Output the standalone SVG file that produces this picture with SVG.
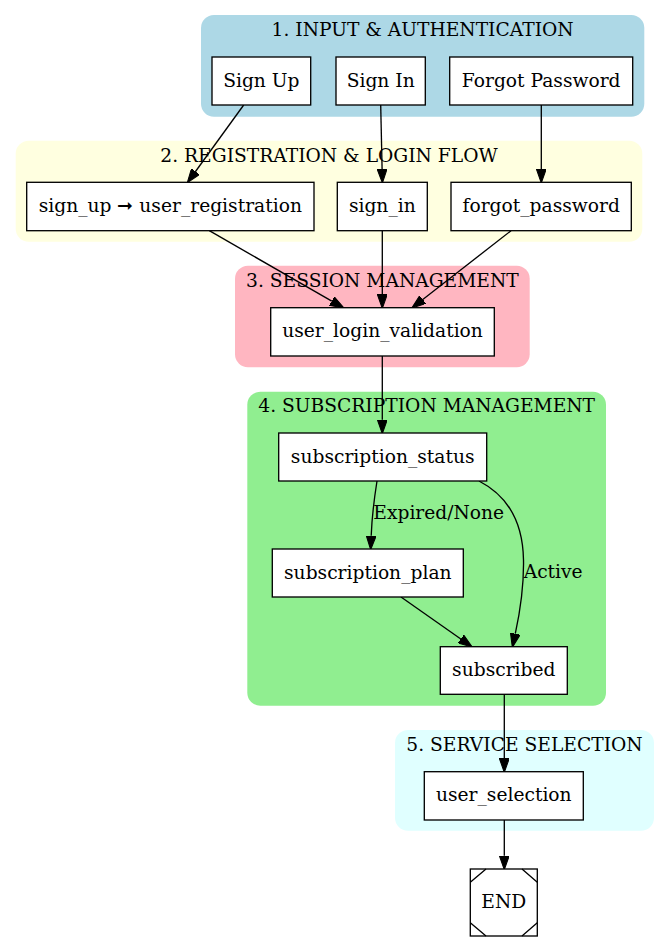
<svg xmlns="http://www.w3.org/2000/svg" width="669" height="941" viewBox="0 0 669 941">
<style>
text{font-family:"DejaVu Serif","Liberation Serif",serif;font-size:18.67px;fill:#000}
.t{text-anchor:middle}
.node{fill:#fff;stroke:#000;stroke-width:1.33}
.edge{fill:none;stroke:#000;stroke-width:1.33}
.cl{stroke:none}
</style>
<defs>
<marker id="arr" markerUnits="userSpaceOnUse" markerWidth="14" markerHeight="10" viewBox="0 0 13.3 9.4" refX="0" refY="4.7" orient="auto">
<path d="M0,0 L13.3,4.7 L0,9.4 z" fill="#000" stroke="#000" stroke-width="1"/>
</marker>
</defs>
<rect width="669" height="941" fill="#fff"/>
<g id="cluster1">
<rect class="cl" x="201" y="15" width="443.3" height="101.7" rx="13" fill="#add8e6"/>
<text class="t" x="422.6" y="36">1. INPUT &amp; AUTHENTICATION</text>
</g>
<g id="cluster2">
<rect class="cl" x="15.7" y="140.7" width="626.6" height="101" rx="13" fill="#ffffe0"/>
<text class="t" x="329" y="162">2. REGISTRATION &amp; LOGIN FLOW</text>
</g>
<g id="cluster3">
<rect class="cl" x="235" y="265.7" width="294.7" height="101.6" rx="13" fill="#ffb6c1"/>
<text class="t" x="382.4" y="286.7">3. SESSION MANAGEMENT</text>
</g>
<g id="cluster4">
<rect class="cl" x="247.3" y="391.7" width="358.7" height="314" rx="13" fill="#90ee90"/>
<text class="t" x="426.7" y="412.3">4. SUBSCRIPTION MANAGEMENT</text>
</g>
<g id="cluster5">
<rect class="cl" x="395" y="730" width="259" height="100.7" rx="13" fill="#e0ffff"/>
<text class="t" x="524.5" y="750.7">5. SERVICE SELECTION</text>
</g>
<g id="connectors">
<path class="edge" marker-end="url(#arr)" d="M243.7,105 L195.5,171.5"/>
<path class="edge" marker-end="url(#arr)" d="M380.7,105 L382.1,169"/>
<path class="edge" marker-end="url(#arr)" d="M541.3,105 L541.3,169"/>
<path class="edge" marker-end="url(#arr)" d="M209.3,230.7 L331.8,301.1"/>
<path class="edge" marker-end="url(#arr)" d="M382.3,230.7 L382.3,294.4"/>
<path class="edge" marker-end="url(#arr)" d="M511,230.7 L422.8,299.5"/>
<path class="edge" marker-end="url(#arr)" d="M382.3,356 L382.3,419.7"/>
<path class="edge" marker-end="url(#arr)" d="M377,481 C373.5,503 371.8,520 371.2,535.7"/>
<path class="edge" marker-end="url(#arr)" d="M479,481 C512,498 523,528 523.5,560 C524,590 520,612 515.3,633.7"/>
<path class="edge" marker-end="url(#arr)" d="M401,597 L460.8,639"/>
<path class="edge" marker-end="url(#arr)" d="M504.3,694.3 L504.3,758.4"/>
<path class="edge" marker-end="url(#arr)" d="M504.3,820 L504.3,855.7"/>
<text x="373.3" y="519.3">Expired/None</text>
<text x="523.7" y="578.3">Active</text>
</g>
<g id="sign_up_input">
<rect class="node" x="212" y="57" width="98.7" height="48"/>
<text class="t" x="261.3" y="86.6">Sign Up</text>
</g>
<g id="sign_in_input">
<rect class="node" x="336" y="57" width="89.3" height="48"/>
<text class="t" x="380.7" y="86.6">Sign In</text>
</g>
<g id="forgot_password_input">
<rect class="node" x="449.7" y="57" width="183" height="48"/>
<text class="t" x="541.2" y="86.6">Forgot Password</text>
</g>
<g id="user_registration">
<rect class="node" x="26.7" y="182.3" width="287.3" height="48.4"/>
<text class="t" x="170.3" y="212.1">sign_up ➞ user_registration</text>
</g>
<g id="sign_in">
<rect class="node" x="337.3" y="182.3" width="90" height="48.4"/>
<text class="t" x="382.3" y="212.1">sign_in</text>
</g>
<g id="forgot_password">
<rect class="node" x="451" y="182.3" width="180.3" height="48.4"/>
<text class="t" x="541.2" y="212.1">forgot_password</text>
</g>
<g id="user_login_validation">
<rect class="node" x="270.7" y="307.7" width="223.6" height="48.3"/>
<text class="t" x="382.5" y="337.4">user_login_validation</text>
</g>
<g id="subscription_status">
<rect class="node" x="278.7" y="433" width="208" height="48"/>
<text class="t" x="382.7" y="462.6">subscription_status</text>
</g>
<g id="subscription_plan">
<rect class="node" x="272.3" y="549" width="191" height="48"/>
<text class="t" x="367.8" y="578.6">subscription_plan</text>
</g>
<g id="subscribed">
<rect class="node" x="440.3" y="646.7" width="127" height="47.6"/>
<text class="t" x="503.8" y="676.1">subscribed</text>
</g>
<g id="user_selection">
<rect class="node" x="424.3" y="771.7" width="159" height="48.3"/>
<text class="t" x="503.8" y="801.4">user_selection</text>
</g>
<g id="end">
<rect class="node" x="470.3" y="869" width="67" height="67"/>
<path class="edge" d="M470.3,882.3 L486,869 M522,869 L537.3,882.3 M470.3,922.7 L486,936 M522,936 L537.3,922.7"/>
<text class="t" x="503.8" y="908.1">END</text>
</g>
</svg>
